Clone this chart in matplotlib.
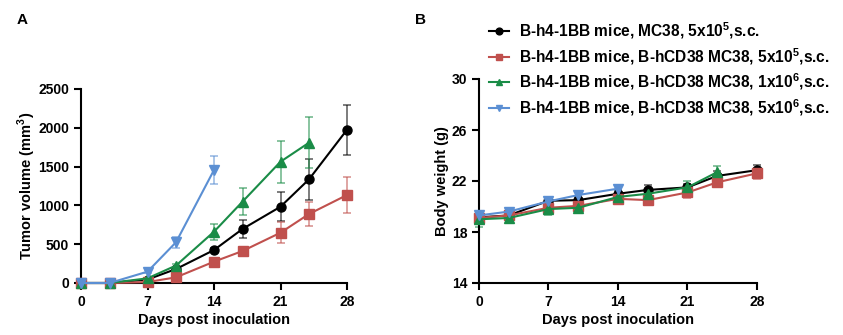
import matplotlib
matplotlib.use("Agg")
import matplotlib.pyplot as plt

plt.rcParams['font.family'] = ['Liberation Sans', 'DejaVu Sans']
plt.rcParams['font.weight'] = 'bold'
plt.rcParams['mathtext.fontset'] = 'custom'
plt.rcParams['mathtext.rm'] = 'Liberation Sans:bold'
plt.rcParams['mathtext.bf'] = 'Liberation Sans:bold'

# === DATA ===
days = [0, 3, 7, 10, 14, 17, 21, 24, 28]

labels = [r"B-h4-1BB mice, MC38, 5x10$^{\mathbf{5}}$,s.c.",
          r"B-h4-1BB mice, B-hCD38 MC38, 5x10$^{\mathbf{5}}$,s.c.",
          r"B-h4-1BB mice, B-hCD38 MC38, 1x10$^{\mathbf{6}}$,s.c.",
          r"B-h4-1BB mice, B-hCD38 MC38, 5x10$^{\mathbf{6}}$,s.c."]

# tumor volume (mm3), mean and error
tv_black = [0, 0, 45, 180, 425, 696, 983, 1336, 1975]
tv_black_err = [0, 0, 10, 25, 25, 112, 185, 260, 320]
tv_red = [0, 0, 12, 73, 275, 412, 648, 889, 1134]
tv_red_err = [0, 0, 5, 15, 20, 25, 135, 155, 236]
tv_green = [0, 0, 60, 225, 661, 1048, 1563, 1808]
tv_green_err = [0, 0, 10, 25, 105, 175, 270, 330]
tv_blue = [0, 0, 146, 525, 1456]
tv_blue_err = [0, 0, 20, 70, 180]

# body weight (g)
bw_black = [19.15, 19.3, 20.45, 20.5, 21.0, 21.3, 21.5, 22.4, 22.85]
bw_black_err = [0.3, 0.3, 0.25, 0.3, 0.3, 0.35, 0.3, 0.35, 0.4]
bw_red = [19.1, 19.3, 19.9, 20.05, 20.6, 20.5, 21.1, 21.9, 22.6]
bw_red_err = [0.4, 0.4, 0.4, 0.4, 0.35, 0.35, 0.4, 0.35, 0.45]
bw_green = [19.0, 19.1, 19.8, 19.9, 20.75, 21.0, 21.5, 22.7]
bw_green_err = [0.6, 0.4, 0.45, 0.4, 0.3, 0.3, 0.5, 0.5]
bw_blue = [19.3, 19.6, 20.4, 20.9, 21.4]
bw_blue_err = [0.3, 0.2, 0.2, 0.2, 0.2]

colors = ['#000000', '#C0504D', '#1A8C47', '#5B8FD3']
markers = ['o', 's', '^', 'v']


def draw(ax, series):
    handles = []
    for (y, e), c, m in zip(series, colors, markers):
        x = days[:len(y)]
        ax.errorbar(x, y, yerr=e, fmt='none', ecolor=c, alpha=0.6,
                    elinewidth=1.2, capsize=3, capthick=1.2, clip_on=False, zorder=2)
        h, = ax.plot(x, y, color=c, marker=m, markersize=6.5, linewidth=1.5,
                     clip_on=False, zorder=3)
        handles.append(h)
    for s in ['top', 'right']:
        ax.spines[s].set_visible(False)
    for s in ['left', 'bottom']:
        ax.spines[s].set_linewidth(1.5)
    ax.tick_params(width=1.5, length=5, labelsize=10)
    ax.set_xlim(0, 28)
    ax.set_xticks([0, 7, 14, 21, 28])
    ax.set_xlabel("Days post inoculation", fontsize=10.5, fontweight='bold', labelpad=3)
    return handles


fig = plt.figure(figsize=(8.43, 3.35), dpi=100)

# === PANEL A ===
axA = fig.add_axes([81 / 843, 1 - 283 / 335, 266 / 843, 194 / 335])
draw(axA, [(tv_black, tv_black_err), (tv_red, tv_red_err),
           (tv_green, tv_green_err), (tv_blue, tv_blue_err)])
axA.set_ylim(0, 2500)
axA.set_yticks([0, 500, 1000, 1500, 2000, 2500])
axA.set_ylabel(r"Tumor volume (mm$^{\mathbf{3}}$)", fontsize=10.5, fontweight='bold', labelpad=0)

# === PANEL B ===
axB = fig.add_axes([479 / 843, 1 - 283 / 335, 278 / 843, 204 / 335])
hs = draw(axB, [(bw_black, bw_black_err), (bw_red, bw_red_err),
                (bw_green, bw_green_err), (bw_blue, bw_blue_err)])
axB.set_ylim(14, 30)
axB.set_yticks([14, 18, 22, 26, 30])
axB.set_ylabel("Body weight (g)", fontsize=10.5, fontweight='bold', labelpad=2)

fig.legend(hs, labels, loc='upper left', bbox_to_anchor=(489 / 843, 1 - 20 / 335),
           frameon=False, fontsize=11.2, handlelength=1.3, handletextpad=0.65,
           labelspacing=0.33, borderpad=0, borderaxespad=0, markerscale=0.75)

fig.text(22 / 843, 1 - 20 / 335, "A", fontsize=11, fontweight='bold', va='center', ha='center')
fig.text(421 / 843, 1 - 20 / 335, "B", fontsize=11, fontweight='bold', va='center', ha='center')

fig.savefig("out.png", dpi=100)
